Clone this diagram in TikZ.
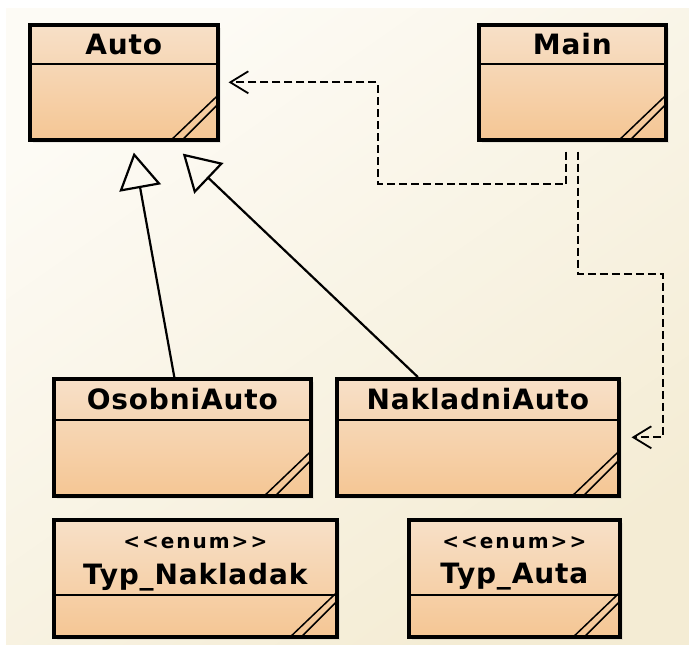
\documentclass[tikz,border=0pt]{standalone}
\usepackage{fontspec}
\setmainfont{DejaVu Sans}
\newfontfamily\umlfont{DejaVu Sans}[LetterSpace=3]
\newfontfamily\stereofont{DejaVu Sans}[LetterSpace=10]
\usetikzlibrary{arrows.meta,calc,shadows}

\definecolor{bgA}{RGB}{253,251,245}
\definecolor{bgB}{RGB}{244,236,212}
\definecolor{boxTop}{RGB}{247,224,200}
\definecolor{boxBot}{RGB}{245,198,148}

\tikzset{
  classbox/.style={draw=black, line width=3.6pt, top color=boxTop, bottom color=boxBot,
    anchor=north west, inner sep=0pt,
    drop shadow={opacity=0.15, shadow xshift=3pt, shadow yshift=-3pt}},
  classname/.style={font=\umlfont\bfseries\fontsize{28}{32}\selectfont, inner sep=0pt},
  stereo/.style={font=\stereofont\bfseries\fontsize{20}{24}\selectfont, inner sep=0pt},
  sepline/.style={line width=1.6pt},
  hatch/.style={line width=1.5pt},
  depend/.style={line width=1.8pt, dash pattern=on 8pt off 4pt,
    -{Straight Barb[length=18pt, width=22pt, line width=1.8pt]}},
  generalize/.style={line width=2.2pt,
    -{Triangle[open, length=36pt, width=42pt, line width=2.2pt]}},
}

% header separator and resize hatch of a class box
\newcommand\classdeco[2]{%
  \draw[sepline] ([yshift=-#2]#1.north west) -- ([yshift=-#2]#1.north east);
  \draw[hatch] ([xshift=-48pt,yshift=2pt]#1.south east) -- ([xshift=-2pt,yshift=46pt]#1.south east);
  \draw[hatch] ([xshift=-37pt,yshift=2pt]#1.south east) -- ([xshift=-2pt,yshift=37pt]#1.south east);
}

\begin{document}
\begin{tikzpicture}[x=1pt,y=-1pt]
\useasboundingbox (0,0) rectangle (689,645);
\fill[white] (0,0) rectangle (689,645);
\shade[shading=axis, top color=bgA, bottom color=bgB, shading angle=35] (6,8) rectangle (689,645);

% classes
\node[classbox, minimum width=188pt, minimum height=115pt] (auto) at (28,23) {};
\node[classbox, minimum width=187pt, minimum height=115pt] (main) at (477,23) {};
\node[classbox, minimum width=257pt, minimum height=117pt] (osobni) at (52,377) {};
\node[classbox, minimum width=282pt, minimum height=117pt] (nakladni) at (335,377) {};
\node[classbox, minimum width=283pt, minimum height=117pt] (typnak) at (52,518) {};
\node[classbox, minimum width=211pt, minimum height=117pt] (typauta) at (407,518) {};

\classdeco{auto}{41pt}
\classdeco{main}{41pt}
\classdeco{osobni}{43pt}
\classdeco{nakladni}{43pt}
\classdeco{typnak}{77pt}
\classdeco{typauta}{77pt}

% names
\node[classname] (autoT) at ([yshift=-21pt]auto.north) {Auto};
\node[classname] (mainT) at ([yshift=-21pt]main.north) {Main};
\node[classname] (osobniT) at ([yshift=-22pt]osobni.north) {OsobniAuto};
\node[classname] (nakladniT) at ([yshift=-22pt]nakladni.north) {NakladniAuto};
\node[stereo] (typnakS) at ([yshift=-25pt]typnak.north) {<<enum>>};
\node[classname] (typnakT) at ([yshift=-59pt]typnak.north) {Typ\_Nakladak};
\node[stereo] (typautaS) at ([yshift=-25pt]typauta.north) {<<enum>>};
\node[classname] (typautaT) at ([yshift=-59pt]typauta.north) {Typ\_Auta};

% dependencies from Main
\coordinate (m1) at ([xshift=-6pt,yshift=-10pt]main.south);
\coordinate (m2) at ([xshift=6pt,yshift=-10pt]main.south);
\draw[depend, shorten >=9pt] (m1) |- (378,184) |- (auto.east);
\draw[depend, shorten >=11pt] (m2) |- (663,274) |- (nakladni.east);

% generalizations to Auto
\coordinate (g1) at ([xshift=10pt,yshift=-11pt]auto.south);
\coordinate (g2) at ([xshift=59pt,yshift=-12pt]auto.south);
\draw[generalize] ([xshift=-8pt]osobni.north) -- (g1);
\draw[generalize] ([xshift=-60pt]nakladni.north) -- (g2);
\end{tikzpicture}
\end{document}
